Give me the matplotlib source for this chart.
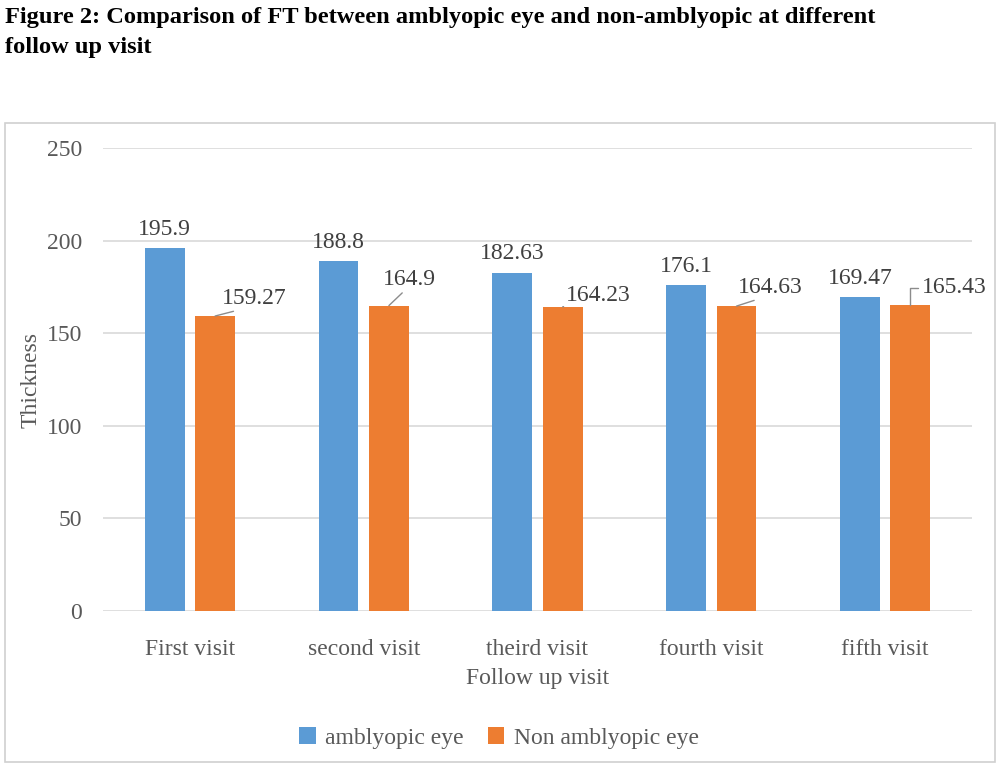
import matplotlib
matplotlib.use("Agg")
import matplotlib.pyplot as plt
from matplotlib.patches import Rectangle, Patch
import numpy as np

categories = ["First visit", "second visit", "theird visit", "fourth visit", "fifth visit"]
amblyopic = [195.9, 188.8, 182.63, 176.1, 169.47]
non_amblyopic = [159.27, 164.9, 164.23, 164.63, 165.43]
amb_labels = ["195.9", "188.8", "182.63", "176.1", "169.47"]
non_labels = ["159.27", "164.9", "164.23", "164.63", "165.43"]
yticks = [0, 50, 100, 150, 200, 250]

plt.rcParams['font.family'] = ['Liberation Serif', 'DejaVu Serif']
BLUE = "#5B9BD5"
ORANGE = "#ED7D31"
GRAY = "#595959"
GRID = "#D9D9D9"
FS = 17

W, H = 1000, 773
fig = plt.figure(figsize=(10, 7.73), dpi=100)
fig.patch.set_facecolor("white")

def fx(px):
    return px / W

def fy(py):
    return 1 - py / H

# outer chart border
fig.patches.append(Rectangle((fx(5), fy(762)), fx(990), (762 - 123) / H,
                             transform=fig.transFigure, fill=False,
                             edgecolor="#D0D0D0", linewidth=1.2))

# title
fig.text(fx(5), fy(18), "Figure 2: Comparison of FT between amblyopic eye and non-amblyopic at different",
         ha="left", va="center", fontsize=17.6, fontweight="bold", color="black")
fig.text(fx(5), fy(48), "follow up visit",
         ha="left", va="center", fontsize=17.6, fontweight="bold", color="black")

ax = fig.add_axes([fx(103), fy(611), fx(972 - 103), (611 - 148) / H])
x = np.arange(len(categories))
bw = 0.23
off = 0.145
ax.bar(x - off, amblyopic, bw, color=BLUE, zorder=3, label="amblyopic eye")
ax.bar(x + off, non_amblyopic, bw, color=ORANGE, zorder=3, label="Non amblyopic eye")

ax.set_xlim(-0.5, len(categories) - 0.5)
ax.set_ylim(0, 250)
ax.set_yticks(yticks)
ax.set_yticklabels([str(t) for t in yticks])
ax.set_xticks(x)
ax.set_xticklabels(categories)
ax.grid(axis="y", color=GRID, linewidth=1.2, zorder=0)
for s in ax.spines.values():
    s.set_visible(False)
ax.tick_params(axis="both", length=0, labelsize=FS, labelcolor=GRAY)
ax.tick_params(axis="y", pad=15)
ax.tick_params(axis="x", pad=20)
ax.set_xlabel("Follow up visit", fontsize=FS, color=GRAY, labelpad=6)
ax.set_ylabel("Thickness", fontsize=FS, color=GRAY, labelpad=4)

# blue labels
for xi, v, lab in zip(x, amblyopic, amb_labels):
    ax.annotate(lab, (xi - off, v), xytext=(0, 6), textcoords="offset points",
                ha="center", va="bottom", fontsize=FS, color="#404040")

# orange labels with leader lines (offsets in pixels)
lab_dx = [39, 21, 36, 34, 44]
lab_dy = [18, 26, 11, 19, 17]
lab_rel = [0.5, 0.46, 0.16, 0.5, 0.0]
for i, (xi, v, lab) in enumerate(zip(x, non_amblyopic, non_labels)):
    if i == 4:
        arrow = dict(arrowstyle="-", color="#8C8C8C", lw=1,
                     shrinkA=1, shrinkB=0, relpos=(0, 0.5),
                     connectionstyle="angle,angleA=0,angleB=90,rad=0")
    else:
        arrow = dict(arrowstyle="-", color="#8C8C8C", lw=1,
                     shrinkA=0, shrinkB=0, relpos=(lab_rel[i], 0.12))
    ax.annotate(lab, (xi + off, v), xytext=(lab_dx[i] * 0.72, lab_dy[i] * 0.72),
                textcoords="offset points", ha="center", va="center",
                fontsize=FS, color="#404040", arrowprops=arrow)

handles = [Patch(facecolor=BLUE), Patch(facecolor=ORANGE)]
fig.legend(handles, ["amblyopic eye", "Non amblyopic eye"], loc="center",
           bbox_to_anchor=(fx(499), fy(738)), ncol=2, frameon=False,
           fontsize=FS, labelcolor=GRAY, handlelength=0.7, handleheight=0.7,
           handletextpad=0.4, columnspacing=1.0)

fig.savefig("out.png", dpi=100)
